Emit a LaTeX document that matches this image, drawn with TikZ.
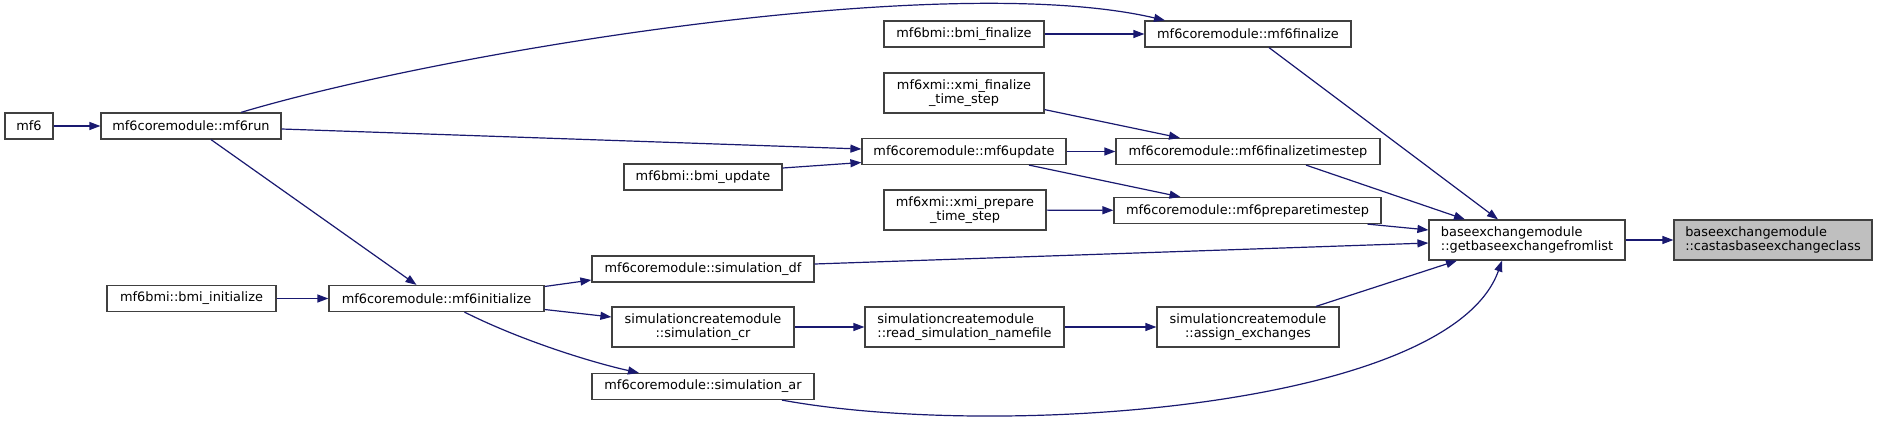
\documentclass[tikz,border=0pt]{standalone}
\usepackage{fontspec}
\setmainfont{DejaVu Sans}
\usetikzlibrary{arrows.meta}
\definecolor{edgeblue}{HTML}{191970}
\definecolor{nodeborder}{HTML}{404040}
\definecolor{hlfill}{HTML}{BFBFBF}
\begin{document}
\begin{tikzpicture}[x=1pt,y=-1pt,
 box/.style={draw=nodeborder, line width=1.2pt, fill=white, inner sep=0pt, minimum height=26pt, font=\fontsize{12.9}{14.3}\selectfont},
 box2/.style={box, minimum height=40pt},
 hl/.style={fill=hlfill},
 call/.style={draw=edgeblue, line width=1.2pt, -{Triangle[length=11pt,width=8pt]}, edgeblue}]
\useasboundingbox[fill=white] (0,0) rectangle (1877,423);

\node[box, minimum width=48pt] (mf6) at (29,126) {mf6};
\node[box, minimum width=180pt] (mf6run) at (191,126) {mf6coremodule::mf6run};
\node[box, minimum width=160pt] (bmifin) at (964,34) {mf6bmi::bmi\_finalize};
\node[box, minimum width=206pt] (mf6fin) at (1248,34) {mf6coremodule::mf6finalize};
\node[box2, minimum width=160pt, align=center] (xmifin) at (964,93) {mf6xmi::xmi\_finalize\\\_time\_step};
\node[box, minimum width=204pt] (mf6upd) at (964,151.5) {mf6coremodule::mf6update};
\node[box, minimum width=264pt] (fints) at (1248,151.5) {mf6coremodule::mf6finalizetimestep};
\node[box, minimum width=158pt] (bmiupd) at (703,177) {mf6bmi::bmi\_update};
\node[box2, minimum width=162pt, align=center] (xmiprep) at (965,210) {mf6xmi::xmi\_prepare\\\_time\_step};
\node[box, minimum width=267pt] (prepts) at (1247.5,210.5) {mf6coremodule::mf6preparetimestep};
\node[box2, minimum width=196pt, align=left] (getbase) at (1527,240) {baseexchangemodule\\::getbaseexchangefromlist};
\node[box2, hl, minimum width=198pt, align=left] (castas) at (1773,240) {baseexchangemodule\\::castasbaseexchangeclass};
\node[box, minimum width=169pt] (bmiinit) at (191.5,298.5) {mf6bmi::bmi\_initialize};
\node[box, minimum width=215pt] (mf6init) at (436.5,298.5) {mf6coremodule::mf6initialize};
\node[box, minimum width=222pt] (simdf) at (703,269) {mf6coremodule::simulation\_df};
\node[box2, minimum width=182pt, align=center] (simcr) at (703,327) {simulationcreatemodule\\::simulation\_cr};
\node[box2, minimum width=199pt, align=left] (readsim) at (964.5,327) {simulationcreatemodule\\::read\_simulation\_namefile};
\node[box2, minimum width=182pt, align=center] (assign) at (1248,327) {simulationcreatemodule\\::assign\_exchanges};
\node[box, minimum width=222pt] (simar) at (703,386.5) {mf6coremodule::simulation\_ar};

\draw[call] (mf6) -- (mf6run);
\draw[call] ([xshift=50pt]mf6run.north) .. controls (450,50) and (950,-30) .. ([xshift=-83pt]mf6fin.north);
\draw[call] ([yshift=-3pt]mf6run.east) -- ([yshift=2.5pt]mf6upd.west);
\draw[call] ([xshift=20pt]mf6run.south) -- ([xshift=-20pt]mf6init.north);
\draw[call] (bmifin) -- (mf6fin);
\draw[call] ([yshift=4pt]xmifin.south east) -- ([xshift=-68pt]fints.north);
\draw[call] (mf6upd) -- (fints);
\draw[call] ([yshift=9pt]bmiupd.east) -- ([yshift=-11pt]mf6upd.west);
\draw[call] ([xshift=65pt]mf6upd.south) -- ([xshift=-67pt]prepts.north);
\draw[call] (xmiprep) -- (prepts);
\draw[call] ([xshift=21pt]mf6fin.south) -- ([xshift=-29pt]getbase.north);
\draw[call] ([xshift=58pt]fints.south) -- ([xshift=-62pt]getbase.north);
\draw[call] ([xshift=120pt]prepts.south) -- ([yshift=10pt]getbase.west);
\draw[call] ([yshift=5pt]simdf.east) -- ([yshift=-3pt]getbase.west);
\draw[call] ([xshift=68pt]assign.north) -- ([xshift=-70pt]getbase.south);
\draw[call] ([xshift=79pt]simar.south) .. controls (1000,440) and (1450,408) .. ([xshift=-25pt]getbase.south);
\draw[call] (getbase) -- (castas);
\draw[call] (bmiinit) -- (mf6init);
\draw[call] ([yshift=12pt]mf6init.east) -- ([yshift=-11pt]simdf.west);
\draw[call] ([yshift=-11pt]mf6init.east) -- ([yshift=10pt]simcr.west);
\draw[call] ([xshift=28pt]mf6init.south) .. controls (520,340) and (590,362) .. ([xshift=-64pt]simar.north);
\draw[call] (simcr) -- (readsim);
\draw[call] (readsim) -- (assign);
\end{tikzpicture}
\end{document}
